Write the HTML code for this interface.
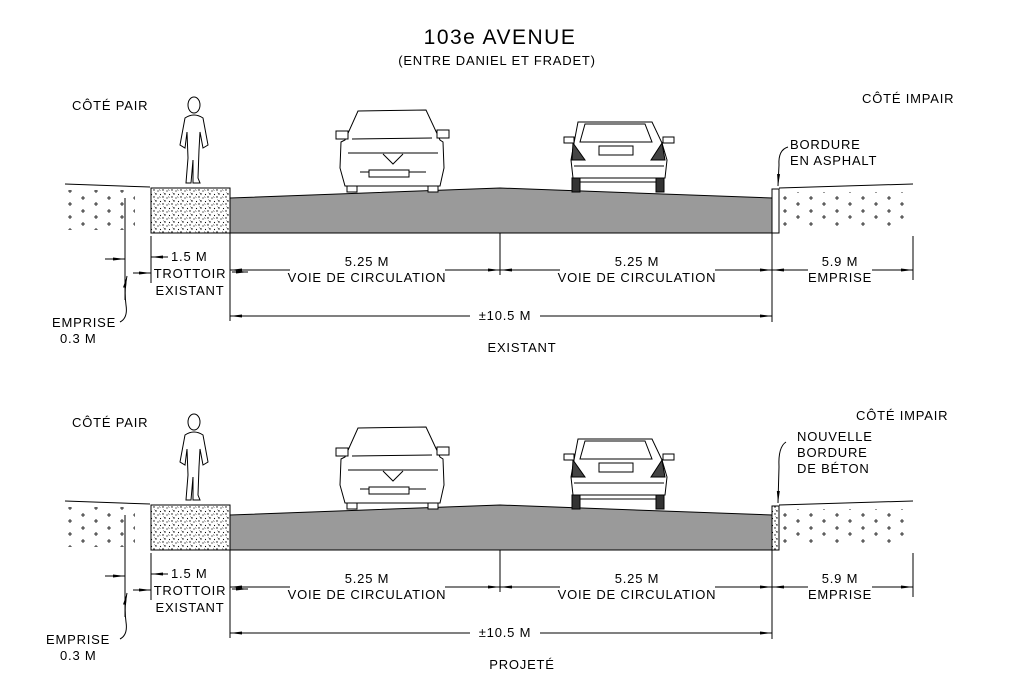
<!DOCTYPE html>
<html><head><meta charset="utf-8"><style>
html,body{margin:0;padding:0;background:#fff;}
svg{display:block}
text{font-family:"Liberation Sans",sans-serif;font-size:13px;fill:#000;letter-spacing:0.8px}
</style></head><body>
<svg width="1010" height="692" viewBox="0 0 1010 692" xmlns="http://www.w3.org/2000/svg">
<defs>
<pattern id="spk" width="9" height="7" patternUnits="userSpaceOnUse">
<rect width="9" height="7" fill="#fff"/>
<circle cx="1" cy="1" r="0.7" fill="#000"/><circle cx="5" cy="2" r="0.6" fill="#000"/>
<circle cx="3" cy="5" r="0.7" fill="#000"/><circle cx="7.5" cy="5.5" r="0.6" fill="#000"/>
<path d="M6 0.5l1.5 1.2M1.5 3.5l1 1.2" stroke="#000" stroke-width="0.5"/>
</pattern>
<pattern id="plus" width="26" height="13" patternUnits="userSpaceOnUse">
<path d="M3 3h4M5 1v4M16 9h4M18 7v4" stroke="#000" stroke-width="0.8"/>
</pattern>
<marker id="ar" markerWidth="12" markerHeight="6" refX="12" refY="3" orient="auto" markerUnits="userSpaceOnUse">
<path d="M0 1.5L12 3L0 4.5Z" fill="#000"/></marker>
<g id="person" fill="#fff" stroke="#000" stroke-width="1">
<ellipse cx="194" cy="105" rx="6" ry="8"/>
<path d="M185 118 Q194 112 203 118 L208 145 L203 148 L200 132 L199 150 L198 178 L200 183 L193 183 L193 160 L191 183 L186 183 L188 158 L187 132 L185 148 L180 145 Z"/>
</g>
<g id="car1" fill="#fff" stroke="#000" stroke-width="1">
<path d="M358 111 L426 110 L440 140 L443 142 L444 168 L440 186 L345 186 L340 168 L341 142 L345 140 Z"/>
<path d="M352 139 L432 138 M348 153 L438 153 M360 172 L426 172 M345 186 L440 186"/>
<rect x="336" y="131" width="12" height="8"/><rect x="437" y="130" width="12" height="8"/>
<path d="M383 154 L393 164 L403 154"/>
<rect x="369" y="170" width="40" height="7"/>
<rect x="347" y="186" width="10" height="6"/><rect x="428" y="186" width="10" height="6"/>
</g>
<g id="car2" fill="#fff" stroke="#000" stroke-width="1">
<path d="M578 122 L652 122 L662 143 L667 160 L665 178 L573 178 L571 160 L574 143 Z"/>
<path d="M585 124 L645 124 L652 142 L580 142 Z"/>
<rect x="599" y="146" width="34" height="9"/>
<path d="M573 143 L585 160 L572 160 Z M662 143 L651 160 L665 160 Z" fill="#444"/>
<rect x="564" y="137" width="10" height="6"/><rect x="663" y="137" width="11" height="6"/>
<rect x="572" y="178" width="8" height="14" fill="#333"/><rect x="656" y="178" width="8" height="14" fill="#333"/>
<path d="M574 166 L664 166 M580 182 L656 182"/>
</g>
<g id="sec">
<path d="M65 184 L150 187" stroke="#000" fill="none"/>
<rect x="65" y="190" width="70" height="40" fill="url(#plus)"/>
<rect x="151" y="188" width="79" height="45" fill="url(#spk)" stroke="#000"/>
<polygon points="230,198 500,188 772,198 772,233 230,233" fill="#9a9a9a" stroke="#000"/>
<path d="M779 188 L913 184" stroke="#000"/>
<rect x="781" y="192" width="132" height="36" fill="url(#plus)"/>
<g stroke="#000" fill="none">
<path d="M125 198 V300 M151 236 V283 M230 233 V321 M500 233 V275 M772 233 V322 M913 236 V280"/>
<path d="M105 259 H125" marker-end="url(#ar)"/>
<path d="M133 273 H151" marker-end="url(#ar)"/>
<path d="M168 257 H151" marker-end="url(#ar)"/>
<path d="M290 270 H230" marker-end="url(#ar)"/><path d="M445 270 H500" marker-end="url(#ar)"/>
<path d="M560 270 H500" marker-end="url(#ar)"/><path d="M715 270 H772" marker-end="url(#ar)"/>
<path d="M808 270 H772" marker-end="url(#ar)"/><path d="M872 270 H913" marker-end="url(#ar)"/>
<path d="M232 272 H248" marker-end="url(#ar)"/>
<path d="M470 316 H230" marker-end="url(#ar)"/><path d="M540 316 H772" marker-end="url(#ar)"/>
<path d="M120 322 Q128 318 126 305 Q124 290 127 276" marker-end="url(#ar)"/>
</g>
<use href="#person"/><use href="#car1"/><use href="#car2"/>
</g>
</defs>

<text x="500" y="44" text-anchor="middle" style="font-size:21px;letter-spacing:1.5px">103e AVENUE</text>
<text x="497" y="65" text-anchor="middle" style="font-size:13px">(ENTRE DANIEL ET FRADET)</text>

<use href="#sec"/>
<rect x="772" y="189" width="7" height="44" fill="#fff" stroke="#000"/>
<path d="M788 147 Q778 150 779 165 L778 186" stroke="#000" fill="none" marker-end="url(#ar)"/>

<g transform="translate(0,317)">
<use href="#sec"/>
<rect x="772" y="189" width="7" height="44" fill="url(#spk)" stroke="#000"/>
<path d="M786 125 Q778 130 779 150 L778 186" stroke="#000" fill="none" marker-end="url(#ar)"/>
</g>

<!-- top texts -->
<text x="72" y="110">CÔTÉ PAIR</text>
<text x="862" y="103">CÔTÉ IMPAIR</text>
<text x="790" y="149">BORDURE</text>
<text x="790" y="165">EN ASPHALT</text>
<text x="171" y="261">1.5 M</text>
<text x="190" y="278" text-anchor="middle">TROTTOIR</text>
<text x="190" y="295" text-anchor="middle">EXISTANT</text>
<text x="367" y="266" text-anchor="middle">5.25 M</text>
<text x="367" y="282" text-anchor="middle">VOIE DE CIRCULATION</text>
<text x="637" y="266" text-anchor="middle">5.25 M</text>
<text x="637" y="282" text-anchor="middle">VOIE DE CIRCULATION</text>
<text x="840" y="266" text-anchor="middle">5.9 M</text>
<text x="840" y="282" text-anchor="middle">EMPRISE</text>
<text x="505" y="320" text-anchor="middle">±10.5 M</text>
<text x="52" y="327">EMPRISE</text>
<text x="60" y="343">0.3 M</text>
<text x="522" y="352" text-anchor="middle">EXISTANT</text>

<!-- bottom texts -->
<text x="72" y="427">CÔTÉ PAIR</text>
<text x="856" y="420">CÔTÉ IMPAIR</text>
<text x="797" y="441">NOUVELLE</text>
<text x="797" y="457">BORDURE</text>
<text x="797" y="473">DE BÉTON</text>
<text x="171" y="578">1.5 M</text>
<text x="190" y="595" text-anchor="middle">TROTTOIR</text>
<text x="190" y="612" text-anchor="middle">EXISTANT</text>
<text x="367" y="583" text-anchor="middle">5.25 M</text>
<text x="367" y="599" text-anchor="middle">VOIE DE CIRCULATION</text>
<text x="637" y="583" text-anchor="middle">5.25 M</text>
<text x="637" y="599" text-anchor="middle">VOIE DE CIRCULATION</text>
<text x="840" y="583" text-anchor="middle">5.9 M</text>
<text x="840" y="599" text-anchor="middle">EMPRISE</text>
<text x="505" y="637" text-anchor="middle">±10.5 M</text>
<text x="46" y="644">EMPRISE</text>
<text x="60" y="660">0.3 M</text>
<text x="522" y="669" text-anchor="middle">PROJETÉ</text>
</svg>
</body></html>
